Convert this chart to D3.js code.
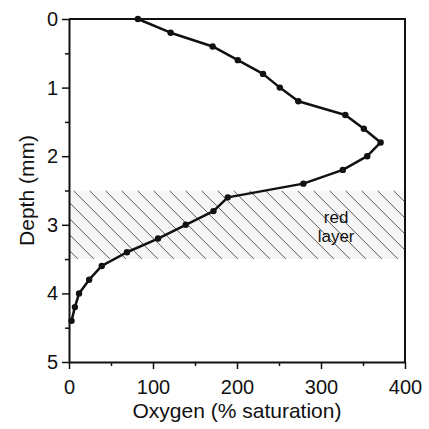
<!DOCTYPE html>
<html>
<head>
<meta charset="utf-8">
<script src="https://cdn.jsdelivr.net/npm/d3@7"></script>
<style>
  body { margin: 0; background: #fff; }
  svg { display: block; font-family: "Liberation Sans", Arial, Helvetica, sans-serif; }
</style>
</head>
<body>
<svg id="chart"></svg>
<script>
// depth profile (mm) and oxygen (% saturation)
const depth = [0, 0.2, 0.4, 0.6, 0.8, 1.0, 1.2, 1.4, 1.6, 1.8, 2.0, 2.2, 2.4, 2.6, 2.8, 3.0, 3.2, 3.4, 3.6, 3.8, 4.0, 4.2, 4.4];
const oxygen = [82, 121, 171, 201, 231, 251, 273, 329, 351, 371, 355, 326, 279, 189, 172, 139, 106, 69, 39, 24, 12, 7, 3];

const xMajor = [0, 100, 200, 300, 400];
const xMinor = [50, 150, 250, 350];
const yMajor = [0, 1, 2, 3, 4, 5];
const yMinor = [0.5, 1.5, 2.5, 3.5, 4.5];

const redLayer = [2.5, 3.5];
const redLabel = ["red", "layer"];

const width = 429, height = 429;
const margin = { left: 69, right: 24, top: 19, bottom: 67 };

const svg = d3.select("#chart").attr("width", width).attr("height", height);

const x = d3.scaleLinear().domain([0, 400]).range([margin.left, width - margin.right]);
const y = d3.scaleLinear().domain([0, 5]).range([margin.top, height - margin.bottom]);

const pts = depth.map((d, i) => ({ depth: d, oxygen: oxygen[i] }));

// hatched red layer band
const defs = svg.append("defs");
defs.append("clipPath").attr("id", "band-clip")
  .append("rect")
  .attr("x", x(0)).attr("y", y(redLayer[0]))
  .attr("width", x(400) - x(0)).attr("height", y(redLayer[1]) - y(redLayer[0]));

const band = svg.append("g").attr("clip-path", "url(#band-clip)");
band.append("rect")
  .attr("x", x(0)).attr("y", y(redLayer[0]))
  .attr("width", x(400) - x(0)).attr("height", y(redLayer[1]) - y(redLayer[0]))
  .attr("fill", "#f6f6f6");

const bandH = y(redLayer[1]) - y(redLayer[0]);
const hatchStarts = d3.range(x(0) - bandH, x(400) + 2, 16);
band.selectAll("line.hatch").data(hatchStarts).enter().append("line")
  .attr("class", "hatch")
  .attr("x1", d => d + 9).attr("y1", y(redLayer[0]))
  .attr("x2", d => d + 9 + bandH).attr("y2", y(redLayer[1]))
  .attr("stroke", "#333").attr("stroke-width", 0.8);

svg.append("text")
  .attr("x", x(318)).attr("text-anchor", "middle")
  .attr("font-size", 17).attr("fill", "#111")
  .selectAll("tspan").data(redLabel).enter().append("tspan")
  .attr("x", x(318))
  .attr("y", (d, i) => 223 + i * 19)
  .text(d => d);

// frame: top and right
svg.append("path")
  .attr("d", `M${x(0)},${y(0)}H${x(400)}V${y(5)}`)
  .attr("fill", "none").attr("stroke", "#111").attr("stroke-width", 2);

// axes
function styleAxis(g) {
  g.select(".domain").attr("stroke", "#111").attr("stroke-width", 2);
  g.selectAll(".tick line").attr("stroke", "#111").attr("stroke-width", 1.5);
  g.selectAll(".tick text").attr("fill", "#111").attr("font-size", 20);
}

svg.append("g").attr("transform", `translate(0,${y(5)})`)
  .call(d3.axisBottom(x).tickValues(xMinor).tickSize(4).tickFormat(""))
  .call(g => g.select(".domain").remove())
  .call(styleAxis);
svg.append("g").attr("transform", `translate(0,${y(5)})`)
  .call(d3.axisBottom(x).tickValues(xMajor).tickSize(7).tickSizeOuter(0).tickPadding(11).tickFormat(d3.format("d")))
  .call(styleAxis);

svg.append("g").attr("transform", `translate(${x(0)},0)`)
  .call(d3.axisLeft(y).tickValues(yMinor).tickSize(4).tickFormat(""))
  .call(g => g.select(".domain").remove())
  .call(styleAxis);
svg.append("g").attr("transform", `translate(${x(0)},0)`)
  .call(d3.axisLeft(y).tickValues(yMajor).tickSize(7).tickSizeOuter(0).tickPadding(4).tickFormat(d3.format("d")))
  .call(styleAxis);

// axis titles
svg.append("text")
  .attr("x", (x(0) + x(400)) / 2).attr("y", 418)
  .attr("text-anchor", "middle").attr("font-size", 21).attr("fill", "#111")
  .text("Oxygen (% saturation)");

svg.append("text")
  .attr("transform", `translate(34,${(y(0) + y(5)) / 2}) rotate(-90)`)
  .attr("text-anchor", "middle").attr("font-size", 21).attr("fill", "#111")
  .text("Depth (mm)");

// oxygen profile
const line = d3.line().x(d => x(d.oxygen)).y(d => y(d.depth));
svg.append("path").datum(pts)
  .attr("d", line)
  .attr("fill", "none").attr("stroke", "#111").attr("stroke-width", 2.5)
  .attr("stroke-linejoin", "round");

svg.selectAll("circle.pt").data(pts).enter().append("circle")
  .attr("class", "pt")
  .attr("cx", d => x(d.oxygen)).attr("cy", d => y(d.depth))
  .attr("r", 3.2).attr("fill", "#111");
</script>
</body>
</html>
